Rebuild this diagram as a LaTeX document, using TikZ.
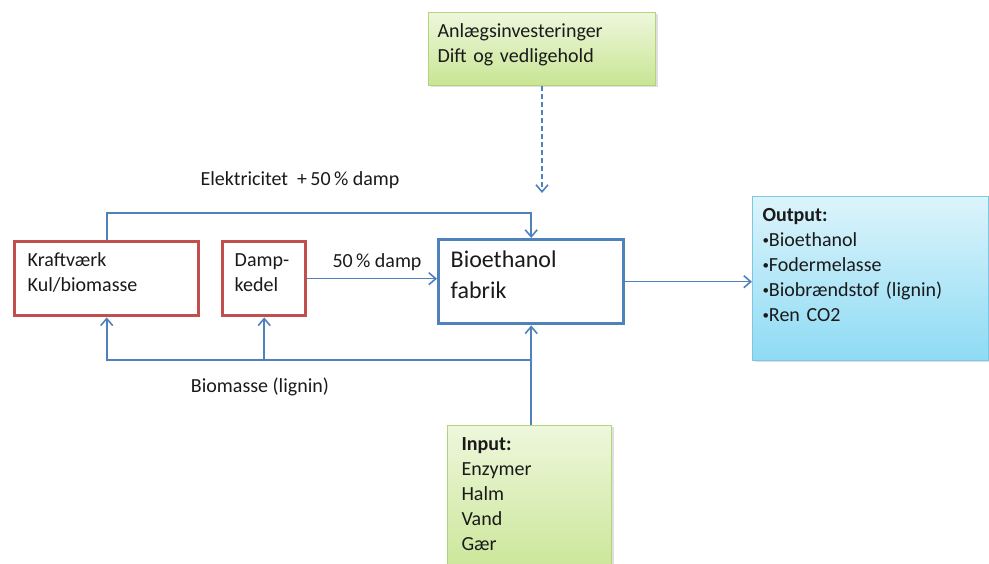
\documentclass[tikz,border=0pt]{standalone}
\usepackage{fontspec}
\setmainfont{Carlito}
\usetikzlibrary{arrows.meta,shadows}
\definecolor{flowblue}{HTML}{4F81BD}
\definecolor{plantred}{HTML}{C0504D}
\definecolor{greenline}{HTML}{B3D57A}
\definecolor{greentop}{HTML}{EEF7DC}
\definecolor{greenbot}{HTML}{C8E594}
\definecolor{blueline}{HTML}{7CC8E2}
\definecolor{bluetop}{HTML}{DCF4FB}
\definecolor{bluebot}{HTML}{8EDBF4}
\definecolor{txt}{HTML}{1A1A1A}
\newcommand{\bul}{\raisebox{1.8pt}{\fontsize{13}{13}\selectfont•}}

\begin{document}
\begin{tikzpicture}[x=1pt,y=1pt,
  every node/.style={text=txt, font=\fontsize{20}{25}\selectfont},
  flow/.style={draw=flowblue, line width=1.6pt, -{Straight Barb[length=7pt,width=12pt]}},
  block/.style={anchor=north west, align=left, inner xsep=12pt, inner ysep=10pt, text height=15pt},
  plant/.style={block, draw=plantred, line width=3.4pt, fill=white, text depth=39pt},
  fabrik/.style={block, draw=flowblue, line width=3.4pt, fill=white, text height=17.5pt, text depth=46.5pt,
    font=\fontsize{24}{31}\selectfont},
  greenbox/.style={block, draw=greenline, line width=1pt, top color=greentop, bottom color=greenbot,
    drop shadow={shadow xshift=2pt, shadow yshift=-2pt, opacity=0.25}},
  bluebox/.style={block, draw=blueline, line width=1pt, top color=bluetop, bottom color=bluebot,
    drop shadow={shadow xshift=2pt, shadow yshift=-2pt, opacity=0.25}}]
\clip (0,0) rectangle (989,563);

\node[greenbox, text width=209pt, inner xsep=9pt, text depth=38pt] (invest) at (428,551)
  {Anlægsinvesteringer\\Dift og vedligehold};

\node[plant, text width=158pt, inner xsep=13pt] (kraft) at (13,323) {Kraftværk\\Kul/biomasse};
\node[plant, text width=59pt] (damp) at (221,323) {Damp-\\kedel};
\node[fabrik, text width=161pt] (bio) at (437,325) {Bioethanol\\fabrik};

\node[bluebox, text width=216pt, inner xsep=10pt, text depth=129pt] (output) at (752,367)
  {\textbf{Output:}\\\bul Bioethanol\\\bul Fodermelasse\\\bul Biobrændstof (lignin)\\\bul Ren CO2};
\node[greenbox, text width=136pt, inner xsep=14pt, text depth=120pt] (input) at (447,138)
  {\textbf{Input:}\\Enzymer\\Halm\\Vand\\Gær};

\node (el) at (300,383) {Elektricitet~ +\,50\,\% damp};
\node (dl) at (377,301) {50\,\% damp};
\node (bl) at (260,176) {Biomasse (lignin)};

\coordinate (investend) at (invest.south |- 0,370);
\coordinate (junction) at (bio.south |- 0,203);

\draw[flow, dash pattern=on 5pt off 3pt] (invest.south) -- (investend);
\draw[flow] (kraft.north) -- ++(0,27) -| (bio.north);
\draw[flow] (damp.east) -- (damp.east -| bio.west);
\draw[flow] (bio.east) -- (bio.east -| output.west);
\draw[flow] (bio.south |- input.north) -- (bio.south);
\draw[flow] (junction) -| (kraft.south);
\draw[flow] (damp.south |- junction) -- (damp.south);
\end{tikzpicture}
\end{document}
